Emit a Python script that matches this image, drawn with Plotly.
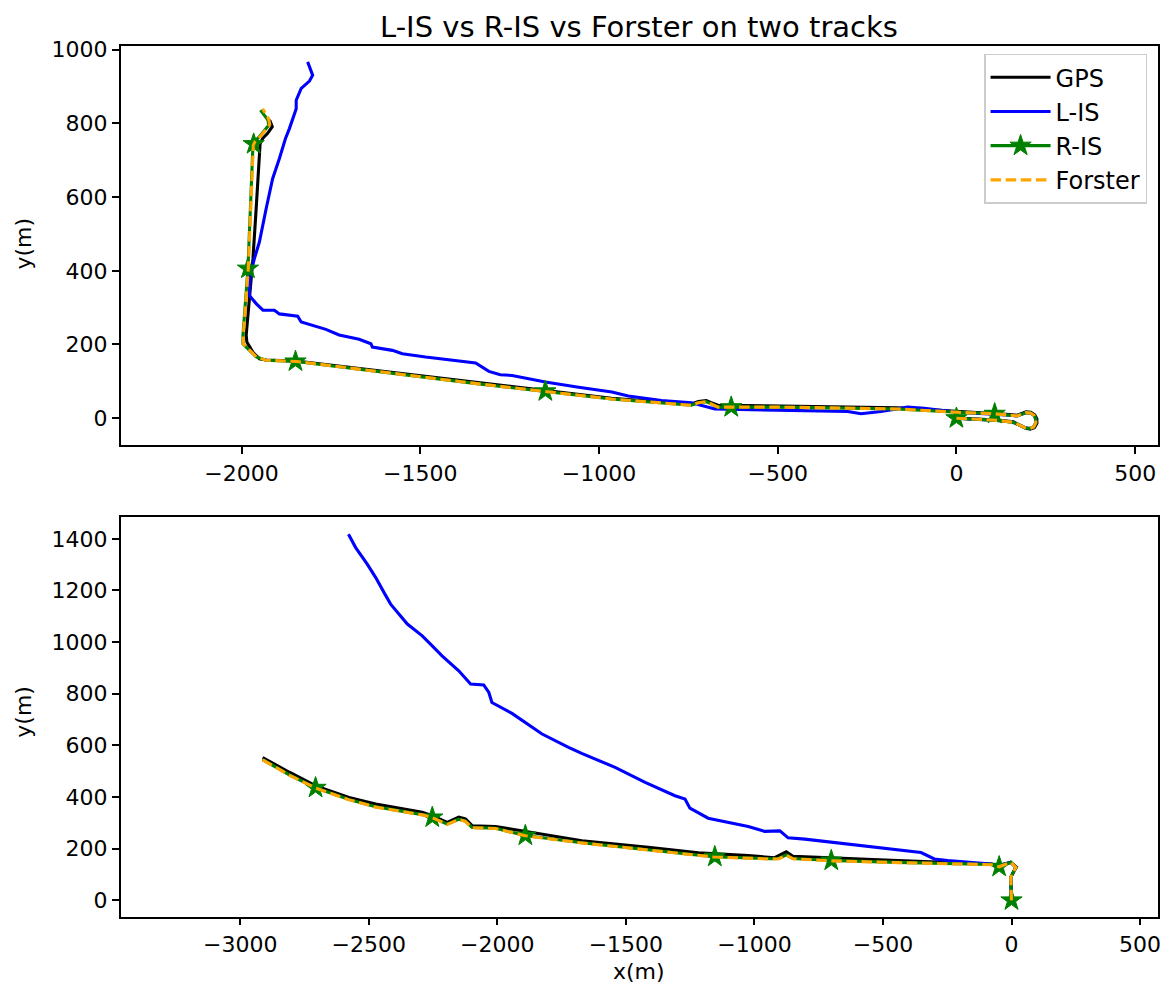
import plotly.graph_objects as go

# ---------------- Track 1 (top) ----------------
gps1_x = [0, 114, 159, 181, 193, 206, 218, 225, 225, 219, 208, 195, 182, 170, 150, 114, 3, -165, -491, -630,
          -667, -686, -700, -722, -742, -965, -1150, -1336, -1847, -1931, -1950, -1968, -1985, -1987, -1978,
          -1968, -1959, -1950, -1948, -1941, -1927, -1914, -1920, -1927]
gps1_y = [0, -5, -10, -20, -27, -30, -26, -14, -2, 9, 16, 17, 13, 8, 10, 12, 18, 28, 33, 34,
          35, 42, 48, 45, 38, 54, 75, 95, 155, 158, 161, 179, 207, 225, 315,
          433, 569, 714, 745, 759, 773, 791, 806, 812]

lis1_x = [0, 114, 159, 180, 192, 205, 216, 222, 222, 217, 207, 195, 182, 170, 150, 114, 3, -90, -137, -211,
          -267, -304, -490, -676, -741, -825, -918, -964, -1057, -1150, -1243, -1276, -1308, -1336, -1345,
          -1485, -1550, -1578, -1634, -1638, -1671, -1727, -1764, -1833, -1843, -1894, -1908, -1940, -1959,
          -1978, -1976, -1964, -1950, -1931, -1913, -1894, -1877, -1866, -1847, -1847, -1833, -1810, -1801,
          -1815]
lis1_y = [0, -6, -11, -20, -26, -28, -24, -13, -2, 8, 14, 15, 11, 6, 8, 10, 16, 27, 30, 18,
          12, 18, 21, 25, 42, 48, 60, 71, 84, 98, 116, 118, 127, 143, 150,
          166, 175, 184, 193, 202, 214, 226, 241, 261, 277, 283, 293, 293, 311,
          333, 388, 433, 478, 569, 650, 705, 759, 786, 840, 863, 895, 915, 931,
          967]

ris1_x = [0, 114, 159, 180, 192, 205, 216, 222, 222, 217, 207, 195, 182, 170, 150, 107, 3, -165, -491, -630,
          -667, -686, -700, -722, -742, -965, -1150, -1336, -1847, -1931, -1959, -1996, -1996, -1982, -1968,
          -1964, -1950, -1924, -1926, -1947]
ris1_y = [0, -6, -11, -20, -26, -28, -24, -13, -2, 8, 14, 15, 11, 6, 8, 12, 16, 25, 30, 30,
          30, 39, 45, 42, 35, 52, 73, 93, 154, 157, 166, 202, 225, 406, 741,
          750, 764, 795, 809, 836]
ris1_star_x = [0, 107, -630, -1150, -1849, -1982, -1966]
ris1_star_y = [0, 12, 30, 73, 154, 406, 744]

forster1_x = [0, 114, 159, 180, 192, 205, 216, 222, 222, 217, 207, 195, 182, 170, 150, 107, 3, -165, -491, -630,
              -667, -686, -700, -722, -742, -965, -1150, -1336, -1847, -1931, -1958, -1995, -1995, -1981, -1967,
              -1962, -1947, -1921, -1924, -1941]
forster1_y = [0, -6, -11, -20, -26, -28, -24, -13, -2, 8, 14, 15, 11, 6, 8, 12, 16, 25, 30, 30,
              30, 39, 45, 42, 35, 52, 73, 93, 154, 157, 166, 202, 225, 406, 741,
              751, 765, 797, 812, 840]

# ---------------- Track 2 (bottom) ----------------
gps2_x = [0, -3, 19, -3, -48, -80, -442, -701, -850, -876, -921, -1024, -1154, -1218, -1413, -1671, -2007,
          -2098, -2124, -2150, -2195, -2253, -2292, -2473, -2577, -2706, -2809, -2913]
gps2_y = [0, 89, 129, 148, 135, 141, 154, 163, 171, 188, 165, 173, 179, 184, 205, 231, 286,
          289, 315, 322, 302, 328, 341, 373, 398, 443, 496, 553]

lis2_x = [0, -3, 17, -3, -48, -80, -248, -300, -352, -507, -636, -804, -869, -901, -960, -1024, -1180, -1251,
          -1270, -1309, -1425, -1542, -1672, -1723, -1826, -1891, -1943, -2021, -2033, -2053, -2104, -2150,
          -2215, -2260, -2292, -2350, -2415, -2434, -2473, -2506, -2551, -2579]
lis2_y = [0, 89, 128, 147, 135, 141, 154, 160, 185, 203, 218, 237, 242, 269, 267, 286, 318, 357,
          392, 405, 457, 515, 569, 592, 644, 689, 724, 766, 805, 834, 838, 889,
          947, 992, 1024, 1070, 1147, 1180, 1250, 1302, 1366, 1418]

ris2_x = [0, -3, 17, -3, -48, -80, -442, -701, -850, -876, -905, -940, -1160, -1413, -1671, -1891, -2007,
          -2098, -2124, -2150, -2195, -2253, -2292, -2473, -2576, -2707, -2809, -2913]
ris2_y = [0, 89, 128, 147, 130, 139, 147, 154, 162, 176, 162, 161, 169, 197, 223, 251, 279,
          282, 307, 314, 295, 321, 332, 362, 390, 436, 486, 545]
ris2_star_x = [0, -48, -701, -1154, -1891, -2253, -2707]
ris2_star_y = [0, 130, 154, 169, 251, 321, 436]

forster2_x = [0, -3, 17, -3, -48, -80, -442, -701, -850, -876, -905, -940, -1160, -1413, -1671, -1891, -2007,
              -2098, -2124, -2150, -2195, -2253, -2292, -2473, -2576, -2707, -2809, -2913]
forster2_y = [0, 89, 128, 147, 130, 138, 146, 153, 161, 175, 161, 160, 168, 196, 222, 250, 278,
              281, 306, 313, 294, 320, 331, 361, 389, 435, 485, 544]

# ---------------- style ----------------
LW = 3.1
BLACK, BLUE, GREEN, ORANGE = "#000000", "#0000ff", "#008000", "#ffa500"
DASH = "10.5px,4.6px"
FONT = "DejaVu Sans"
STAR = dict(symbol="star", size=16, color=GREEN, line=dict(color=GREEN, width=1))

fig = go.Figure()


def add_track(xa, ya, gx, gy, lx, ly, rx, ry, sx, sy, fx, fy):
    fig.add_trace(go.Scatter(x=gx, y=gy, mode="lines", line=dict(color=BLACK, width=LW),
                             showlegend=False, xaxis=xa, yaxis=ya, hoverinfo="skip"))
    fig.add_trace(go.Scatter(x=lx, y=ly, mode="lines", line=dict(color=BLUE, width=LW),
                             showlegend=False, xaxis=xa, yaxis=ya, hoverinfo="skip"))
    fig.add_trace(go.Scatter(x=rx, y=ry, mode="lines", line=dict(color=GREEN, width=LW),
                             showlegend=False, xaxis=xa, yaxis=ya, hoverinfo="skip"))
    fig.add_trace(go.Scatter(x=sx, y=sy, mode="markers", marker=STAR,
                             showlegend=False, xaxis=xa, yaxis=ya, hoverinfo="skip"))
    fig.add_trace(go.Scatter(x=fx, y=fy, mode="lines", line=dict(color=ORANGE, width=LW, dash=DASH),
                             showlegend=False, xaxis=xa, yaxis=ya, hoverinfo="skip"))


add_track("x", "y", gps1_x, gps1_y, lis1_x, lis1_y, ris1_x, ris1_y, ris1_star_x, ris1_star_y,
          forster1_x, forster1_y)
add_track("x2", "y2", gps2_x, gps2_y, lis2_x, lis2_y, ris2_x, ris2_y, ris2_star_x, ris2_star_y,
          forster2_x, forster2_y)

# legend entries
legend_names = ["GPS", "L-IS", "R-IS", "Forster"]
fig.add_trace(go.Scatter(x=[None], y=[None], mode="lines", name=legend_names[0],
                         line=dict(color=BLACK, width=LW), legendgroup="a"))
fig.add_trace(go.Scatter(x=[None], y=[None], mode="lines", name=legend_names[1],
                         line=dict(color=BLUE, width=LW), legendgroup="b"))
fig.add_trace(go.Scatter(x=[None], y=[None], mode="lines+markers", name=legend_names[2],
                         line=dict(color=GREEN, width=LW), marker=STAR, legendgroup="c"))
fig.add_trace(go.Scatter(x=[None], y=[None], mode="lines", name=legend_names[3],
                         line=dict(color=ORANGE, width=LW, dash=DASH), legendgroup="d"))

W, H = 1176, 991
L, R = 121, 1161
T1, B1 = 38, 441
T2, B2 = 513, 916


def px_x(p):
    return p / W


def px_y(p):
    return 1 - p / H


axis_common = dict(showline=True, mirror=True, linecolor="black", linewidth=1.5,
                   ticks="outside", ticklen=7, tickwidth=1.5, tickcolor="black",
                   showgrid=False, zeroline=False,
                   tickfont=dict(family=FONT, size=22, color="black"))

fig.update_layout(
    width=W, height=H,
    margin=dict(l=0, r=0, t=0, b=0),
    paper_bgcolor="white", plot_bgcolor="white",
    font=dict(family=FONT, size=22, color="black"),
    xaxis=dict(domain=[px_x(L), px_x(R)], anchor="y", range=[-2338, 564],
               tickmode="array", tickvals=[-2000, -1500, -1000, -500, 0, 500], **axis_common),
    yaxis=dict(domain=[px_y(B1), px_y(T1)], anchor="x", range=[-74, 1011],
               tickmode="array", tickvals=[0, 200, 400, 600, 800, 1000], **axis_common),
    xaxis2=dict(domain=[px_x(L), px_x(R)], anchor="y2", range=[-3465, 570],
                tickmode="array", tickvals=[-3000, -2500, -2000, -1500, -1000, -500, 0, 500], **axis_common),
    yaxis2=dict(domain=[px_y(B2), px_y(T2)], anchor="x2", range=[-63, 1485],
                tickmode="array", tickvals=[0, 200, 400, 600, 800, 1000, 1200, 1400], **axis_common),
    legend=dict(x=px_x(1150), y=px_y(46), xanchor="right", yanchor="top",
                bgcolor="white", bordercolor="#cccccc", borderwidth=1.5,
                font=dict(family=FONT, size=24, color="black"),
                tracegroupgap=0, itemwidth=60, traceorder="grouped"),
    showlegend=True,
    annotations=[
        dict(text="L-IS vs R-IS vs Forster on two tracks", x=px_x((L + R) / 2), y=1,
             xref="paper", yref="paper", showarrow=False, xanchor="center", yanchor="top",
             font=dict(family=FONT, size=29, color="black")),
        dict(text="y(m)", x=px_x(24), y=px_y((T1 + B1) / 2 - 2), xref="paper", yref="paper",
             showarrow=False, textangle=-90, xanchor="center", yanchor="middle",
             font=dict(family=FONT, size=22, color="black")),
        dict(text="y(m)", x=px_x(24), y=px_y((T2 + B2) / 2 - 5), xref="paper", yref="paper",
             showarrow=False, textangle=-90, xanchor="center", yanchor="middle",
             font=dict(family=FONT, size=22, color="black")),
        dict(text="x(m)", x=px_x((L + R) / 2), y=px_y(971), xref="paper", yref="paper",
             showarrow=False, xanchor="center", yanchor="middle",
             font=dict(family=FONT, size=22, color="black")),
    ],
)

fig.write_html("out.html", config={"displayModeBar": False},
               post_script="document.body.style.margin='0px';")
